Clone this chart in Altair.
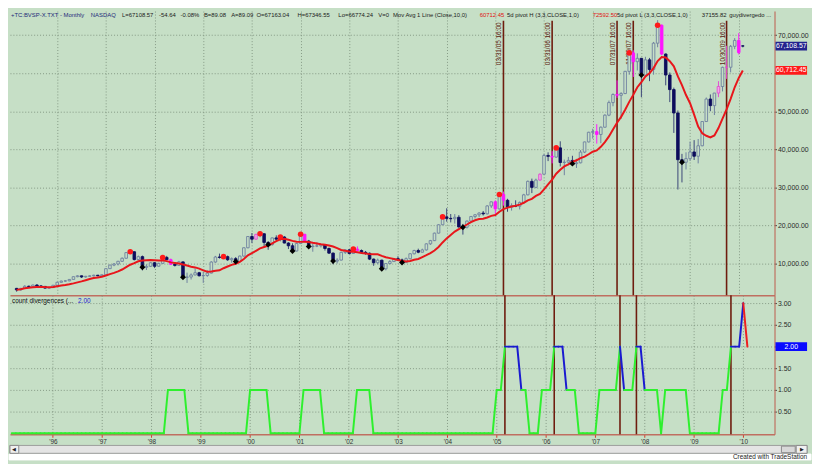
import altair as alt
import pandas as pd

FONT = "Liberation Sans"
BG = "#c6dfc6"

# ---------------- data ----------------
FIRST_BAR = -10  # bar index of Mar 1995 (0 = Jan 1996)

OPEN = [
    3470, 3070, 3460, 4030, 3930, 4350, 4110, 3990, 3540, 3680,                      # 1995 Mar-Dec
    4300, 5070, 5380, 5450, 5820, 6540, 6770, 6460, 6640, 6750, 6930, 6790,          # 1996
    7040, 8650, 9590, 9880, 10580, 11380, 12870, 13090, 11040, 11800, 9000, 9260,    # 1997
    10200, 9290, 10040, 11600, 11010, 9790, 9500, 10430, 6400, 6450, 6990, 7580,     # 1998
    6780, 6850, 7490, 10390, 11710, 11600, 11800, 10980, 11270, 10500, 11950, 14140, # 1999
    17090, 16390, 17660, 17820, 15540, 14960, 16730, 16390, 16960, 15380, 14660, 13280,  # 2000
    15260, 17670, 15890, 14440, 14580, 14640, 14920, 13950, 12730, 10630, 10900, 12930,  # 2001
    13580, 12650, 13780, 13410, 12950, 12690, 11160, 10210, 10880, 8620, 9990, 10510,    # 2002
    11270, 10940, 10280, 11270, 12560, 13420, 12970, 13570, 15170, 16010, 17980, 20180,  # 2003
    22240, 21850, 21760, 22140, 19610, 19540, 21150, 22340, 22800, 23250, 23050, 25130,  # 2004
    26200, 24350, 28140, 26610, 24810, 25210, 25050, 26040, 28040, 31580, 30000, 31920,  # 2005
    33460, 38380, 38150, 37950, 40370, 36530, 36630, 37080, 36230, 36450, 39260, 41930,  # 2006
    44470, 44640, 43890, 45800, 48960, 52270, 54390, 54180, 54640, 60470, 65320, 63010,  # 2007
    63890, 59490, 63490, 60970, 67870, 72590, 65020, 59510, 55680, 49540, 37260, 36600,  # 2008
    37550, 39300, 38180, 40930, 47290, 53200, 51470, 54770, 56490, 61520, 61550, 67040,  # 2009
    68590, 67163,                                                                        # 2010
]
HIGH = [
    3600, 3600, 4300, 4200, 4450, 4600, 4300, 4050, 3800, 4350,
    5200, 5500, 5600, 5900, 6600, 6900, 6850, 6750, 6900, 7050, 7000, 7100,
    8700, 9700, 10100, 10700, 11600, 12950, 13620, 13200, 12100, 12100, 9800, 10300,
    10400, 10200, 11900, 12000, 11300, 10200, 10700, 10500, 7600, 7400, 8700, 7800,
    7800, 8200, 10600, 12000, 12600, 12200, 12100, 11600, 11700, 12100, 14200, 17200,
    18000, 17800, 18500, 17900, 15900, 16800, 17400, 17100, 17200, 15600, 15300, 15400,
    18000, 17800, 16200, 15300, 15600, 15200, 15000, 14200, 12900, 11400, 13100, 13800,
    13800, 14000, 14500, 13700, 13300, 12900, 11300, 11300, 11000, 10100, 10900, 11400,
    11900, 11300, 11600, 12700, 13600, 13900, 13900, 15300, 16200, 18100, 20300, 22400,
    24500, 23000, 23000, 22700, 20400, 21300, 22500, 23000, 23500, 23800, 25300, 26300,
    26600, 28600, 28900, 27000, 25800, 26600, 26300, 28300, 31800, 32300, 32300, 33700,
    38800, 39200, 39500, 40600, 42100, 37300, 38000, 38300, 37500, 39800, 42000, 44600,
    45400, 46600, 46000, 49200, 52800, 54700, 58100, 55000, 60600, 65800, 66000, 65200,
    64000, 64300, 64000, 68200, 73920, 72800, 65200, 60200, 56200, 50200, 38800, 39200,
    42000, 42400, 42700, 47300, 53600, 54400, 54800, 57900, 61700, 67200, 67400, 69200,
    70500, 67347,
]
LOW = [
    2600, 2900, 3400, 3800, 3850, 4000, 3900, 3450, 3350, 3650,
    4250, 5000, 5200, 5350, 5800, 6400, 6200, 6300, 6550, 6600, 6650, 6700,
    7000, 8600, 9300, 9500, 10400, 11300, 12600, 10800, 10900, 8200, 8300, 9100,
    8800, 9200, 9900, 10900, 9600, 9200, 9400, 6300, 4900, 5800, 6900, 6600,
    4900, 6500, 7400, 10200, 11300, 11200, 10700, 10200, 10400, 10400, 11800, 14000,
    15400, 16300, 16900, 14500, 13600, 14700, 16100, 15800, 15300, 13800, 12800, 13200,
    15100, 15600, 14000, 13100, 14300, 14200, 13400, 12500, 9800, 10000, 10800, 12500,
    12400, 12500, 13300, 12600, 12300, 10900, 9400, 9800, 8300, 8200, 9800, 10400,
    10700, 9800, 10100, 11100, 12400, 12700, 12900, 13400, 14900, 15900, 17900, 20100,
    21000, 20800, 20500, 19400, 17600, 19200, 20900, 21800, 22200, 22600, 22900, 24600,
    23100, 24200, 25200, 23600, 23900, 24800, 24200, 25700, 27900, 28500, 29800, 31700,
    33400, 36900, 36300, 37800, 35500, 33200, 35800, 35800, 35100, 36300, 39000, 41800,
    42800, 41500, 41600, 45700, 48700, 51300, 53500, 48000, 54500, 59600, 59000, 60700,
    53700, 59300, 57900, 59600, 66800, 64700, 56800, 52400, 44300, 29430, 31300, 34700,
    37000, 37200, 36300, 40800, 47200, 50000, 49000, 53700, 55200, 58500, 60200, 66300,
    64900, 66774,
]
CLOSE = [
    3070, 3460, 4030, 3930, 4350, 4110, 3990, 3540, 3680, 4300,
    5070, 5380, 5450, 5820, 6540, 6770, 6460, 6640, 6750, 6930, 6790, 7040,
    8650, 9590, 9880, 10580, 11380, 12870, 13090, 11040, 11800, 9000, 9260, 10200,
    9290, 10040, 11600, 11010, 9790, 9500, 10430, 6400, 6450, 6990, 7580, 6780,
    6850, 7490, 10390, 11710, 11600, 11800, 10980, 11270, 10500, 11950, 14140, 17090,
    16390, 17660, 17820, 15540, 14960, 16730, 16390, 16960, 15380, 14660, 13280, 15260,
    17670, 15890, 14440, 14580, 14640, 14920, 13950, 12730, 10630, 10900, 12930, 13580,
    12650, 13780, 13410, 12950, 12690, 11160, 10210, 10880, 8620, 9990, 10510, 11270,
    10940, 10280, 11270, 12560, 13420, 12970, 13570, 15170, 16010, 17980, 20180, 22240,
    21850, 21760, 22140, 19610, 19540, 21150, 22340, 22800, 23250, 23050, 25130, 26200,
    24350, 28140, 26610, 24810, 25210, 25050, 26040, 28040, 31580, 30000, 31920, 33460,
    38380, 38150, 37950, 40370, 36530, 36630, 37080, 36230, 36450, 39260, 41930, 44470,
    44640, 43890, 45800, 48960, 52270, 54390, 54180, 54640, 60470, 65320, 63010, 63890,
    59490, 63490, 60970, 67870, 72590, 65020, 59510, 55680, 49540, 37260, 36600, 37550,
    39300, 38180, 40930, 47290, 53200, 51470, 54770, 56490, 61520, 61550, 67040, 68590,
    65400, 67109,
]

PINK_BARS = [28, 49, 61, 74, 108, 110, 119, 122, 133, 138, 142, 149, 163, 165, 168]
PIVOT_HIGH = [18, 26, 41, 50, 55, 60, 73, 95, 109, 123, 141, 148]
PIVOT_LOW = [21, 31, 44, 52, 58, 62, 68, 80, 85, 100, 127, 144, 154]

DIVERGENCES = [
    0, 0, 0, 0, 0, 0, 0, 0, 0, 0,              # 1995 Mar-Dec
    0, 0, 0, 0, 0, 0, 0, 0, 0, 0, 0, 0,        # 1996
    0, 0, 0, 0, 0, 0, 0, 0, 0, 0, 0, 0,        # 1997
    0, 0, 0, 0, 1, 1, 1, 1, 1, 0, 0, 0,        # 1998
    0, 0, 0, 0, 0, 0, 0, 0, 0, 0, 0, 0,        # 1999
    1, 1, 1, 1, 1, 0, 0, 0, 0, 0, 0, 0,        # 2000
    0, 1, 1, 1, 1, 1, 0, 0, 0, 0, 0, 0,        # 2001
    0, 0, 1, 1, 1, 1, 0, 0, 0, 0, 0, 0,        # 2002
    0, 0, 0, 0, 0, 0, 0, 0, 0, 0, 0, 0,        # 2003
    0, 0, 0, 0, 0, 0, 0, 0, 0, 0, 0, 0,        # 2004
    1, 1, 2, 2, 2, 2, 1, 1, 0, 0, 0, 1,        # 2005
    1, 1, 2, 2, 2, 1, 1, 1, 0, 0, 0, 0,        # 2006
    0, 1, 1, 1, 1, 1, 2, 1, 1, 1, 2, 2,        # 2007
    1, 1, 1, 1, 0, 1, 1, 1, 1, 1, 1, 0,        # 2008
    0, 0, 0, 0, 0, 0, 0, 1, 1, 2, 2, 2,        # 2009
    3, 2,                                      # 2010
]

SIGNAL_BARS = [110, 122, 138, 142, 165]
SIGNAL_LABELS = ["03/31/05 16:00", "03/31/06 16:00", "07/31/07 16:00",
                 "11/30/07 16:00", "10/30/09 16:00"]

YEAR_TICKS = [0, 12, 24, 36, 48, 60, 72, 84, 96, 108, 120, 132, 144, 156, 168]
YEAR_LABELS = ["'96", "'97", "'98", "'99", "'00", "'01", "'02", "'03", "'04",
               "'05", "'06", "'07", "'08", "'09", "'10"]
PRICE_TICKS = [10000, 20000, 30000, 40000, 50000, 60000, 70000]
COUNT_TICKS = [0.5, 1.0, 1.5, 2.0, 2.5, 3.0]

LAST_CLOSE = 67108.57
LAST_MA = 60712.45
LAST_COUNT = 2.0

HEADER = [
    ("+TC:BVSP-X.TXT - Monthly", 1, "#1e2a7a"),
    ("NASDAQ", 83, "#1e2a7a"),
    ("L=67108.57", 115, "#1a1a1a"),
    ("-54.64", 153, "#1a1a1a"),
    ("-0.08%", 175, "#1a1a1a"),
    ("B=89.08", 199, "#1a1a1a"),
    ("A=89.09", 227, "#1a1a1a"),
    ("O=67163.04", 253, "#1a1a1a"),
    ("H=67346.55", 295, "#1a1a1a"),
    ("Lo=66774.24", 337, "#1a1a1a"),
    ("V=0", 378, "#1a1a1a"),
    ("Mov Avg 1 Line (Close,10,0)", 393, "#1a1a1a"),
    ("60712.45", 482, "#e01010"),
    ("5d pivot H (3,3,CLOSE,1,0)", 510, "#1a1a1a"),
    ("72592.50", 598, "#e01010"),
    ("5d pivot L (3,3,CLOSE,1,0)", 623, "#1a1a1a"),
    ("37155.82", 710, "#1a1a1a"),
    ("guydivergedo ...", 738, "#1a1a1a"),
]

# ---------------- layout ----------------
W, H1, H2 = 775, 288, 141
SX = 0.9878

price = pd.DataFrame({
    "m": list(range(FIRST_BAR, FIRST_BAR + len(CLOSE))),
    "o": OPEN, "h": HIGH, "l": LOW, "c": CLOSE,
})
div = pd.DataFrame({"m": list(range(FIRST_BAR, FIRST_BAR + len(DIVERGENCES))),
                    "v": DIVERGENCES})
sig = pd.DataFrame({"m": SIGNAL_BARS, "label": SIGNAL_LABELS})
ONE = pd.DataFrame({"k": [0]})

XS = alt.Scale(domain=[-10.43, 175.6], nice=False, zero=False)
YS = alt.Scale(domain=[1681, 76302], nice=False, zero=False)
YS2 = alt.Scale(domain=[-0.022, 3.186], nice=False, zero=False)

GRID = dict(grid=True, gridColor="#7d917d", gridDash=[1, 2], gridWidth=1, gridOpacity=0.9)
BORDER = "#bf6f60"

AX_TOP = alt.Axis(values=YEAR_TICKS, labels=False, ticks=False, domain=True,
                  domainColor=BORDER, domainWidth=1.5, title=None, **GRID)
AY_TOP = alt.Axis(orient="right", values=PRICE_TICKS,
                  labelExpr="datum.value == 60000 ? '' : format(datum.value, ',.2f')",
                  domainColor=BORDER, domainWidth=1.2, tickColor="#444444", tickSize=2,
                  labelFont=FONT, labelFontSize=7, labelColor="#2a2a2a", labelPadding=1,
                  labelOverlap=False, title=None, **GRID)
year_arr = "[" + ",".join('"%s"' % s for s in YEAR_LABELS) + "]"
AX_BOT = alt.Axis(values=YEAR_TICKS, labelExpr=year_arr + "[round(datum.value/12)]",
                  tickColor="#d0392a", tickSize=3, labelFont=FONT, labelFontSize=6.5,
                  labelColor="#333333", labelPadding=1, domainColor=BORDER, domainWidth=1.5,
                  labelFlush=False, labelOverlap=False, title=None, **GRID)
AY_BOT = alt.Axis(orient="right", values=COUNT_TICKS,
                  labelExpr="datum.value == 2 ? '' : format(datum.value, '.2f')",
                  domainColor=BORDER, domainWidth=1.2, tickColor="#444444", tickSize=2,
                  labelFont=FONT, labelFontSize=7, labelColor="#2a2a2a", labelPadding=1,
                  labelOverlap=False, title=None, **GRID)

X_TOP = alt.X("m:Q", scale=XS, axis=AX_TOP)
X_BOT = alt.X("m:Q", scale=XS, axis=AX_BOT)

pink_arr = "[" + ",".join(str(p) for p in PINK_BARS) + "]"
base = alt.Chart(price).transform_calculate(
    kind="(datum.c >= datum.o ? 'up' : 'dn') + (indexof(" + pink_arr + ", datum.m) >= 0 ? 'P' : '')"
)
KINDS = ["up", "dn", "upP", "dnP"]


def note(s, x, y, color="#222222", size=6, align="left"):
    return alt.Chart(ONE).mark_text(text=s, font=FONT, fontSize=size, color=color,
                                    align=align, baseline="middle").encode(
        x=alt.value(x), y=alt.value(y))


def box(x1, x2, y1, y2, fill, stroke):
    return alt.Chart(ONE).mark_rect(fill=fill, stroke=stroke, strokeWidth=1).encode(
        x=alt.value(x1), x2=alt.value(x2), y=alt.value(y1), y2=alt.value(y2))


def value_box(v, txt, color, scale, axis):
    yd = alt.YDatum(v, scale=scale, axis=axis)
    r = alt.Chart(ONE).mark_rule(strokeWidth=9, color=color, strokeCap="butt").encode(
        x=alt.value(W + 1), x2=alt.value(W + 33), y=yd)
    t = alt.Chart(ONE).mark_text(text=txt, font=FONT, fontSize=7, color="#ffffff",
                                 align="center", baseline="middle").encode(
        x=alt.value(W + 17), y=yd)
    return r, t


# ---------------- top panel ----------------
sig_rules = alt.Chart(sig).mark_rule(color="#6e1c0e", strokeWidth=1.6).encode(
    x=X_TOP, y=alt.value(9.7), y2=alt.value(H1))
sig_text = alt.Chart(sig).mark_text(angle=270, align="right", baseline="bottom", dy=-1,
                                    font=FONT, fontSize=6.5, color="#5b200e").encode(
    x=X_TOP, y=alt.value(11.5), text="label:N")

wicks = base.mark_rule(strokeWidth=1).encode(
    x=X_TOP, y=alt.Y("l:Q", scale=YS, axis=AY_TOP), y2="h:Q",
    color=alt.Color("kind:N", scale=alt.Scale(domain=KINDS,
                    range=["#6f81a0", "#3a4578", "#e050d0", "#ff14ff"]), legend=None))
bodies = base.mark_bar(size=2.6, strokeWidth=0.9).encode(
    x=X_TOP, y=alt.Y("o:Q", scale=YS, axis=AY_TOP), y2="c:Q",
    fill=alt.Fill("kind:N", scale=alt.Scale(domain=KINDS,
                  range=[BG, "#0d0d5c", "#f2a6ea", "#ff14ff"]), legend=None),
    stroke=alt.Stroke("kind:N", scale=alt.Scale(domain=KINDS,
                      range=["#6f81a0", "#0d0d5c", "#e050d0", "#ff14ff"]), legend=None))
ma = base.transform_window(ma="mean(c)", frame=[-9, 0], sort=[alt.SortField("m")]).mark_line(
    color="#e8161b", strokeWidth=2).encode(x=X_TOP, y=alt.Y("ma:Q", scale=YS, axis=AY_TOP))
hi_pts = base.transform_filter(alt.FieldOneOfPredicate(field="m", oneOf=PIVOT_HIGH)).mark_point(
    shape="circle", filled=True, size=32, color="#ff1a1a", opacity=1).encode(
    x=X_TOP, y=alt.Y("c:Q", scale=YS, axis=AY_TOP))
lo_pts = base.transform_filter(alt.FieldOneOfPredicate(field="m", oneOf=PIVOT_LOW)).mark_point(
    shape="diamond", filled=True, size=36, color="#000000", opacity=1).encode(
    x=X_TOP, y=alt.Y("c:Q", scale=YS, axis=AY_TOP))

box_close, box_close_t = value_box(LAST_CLOSE, f"{LAST_CLOSE:,.2f}", "#23238e", YS, AY_TOP)
box_ma, box_ma_t = value_box(LAST_MA, f"{LAST_MA:,.2f}", "#ff1a1a", YS, AY_TOP)

header = [note(t, x * SX, 4.4, c) for t, x, c in HEADER]

top = alt.layer(sig_rules, sig_text, wicks, bodies, ma, hi_pts, lo_pts,
                box_close, box_close_t, box_ma, box_ma_t, *header).properties(width=W, height=H1)

# ---------------- bottom panel ----------------
sig_rules2 = alt.Chart(sig).mark_rule(color="#6e1c0e", strokeWidth=1.6).encode(
    x=X_BOT, y=alt.value(0), y2=alt.value(H2))

segs = alt.Chart(div).transform_window(
    window=[alt.WindowFieldDef(op="lag", field="v", **{"as": "pv"}),
            alt.WindowFieldDef(op="lag", field="m", **{"as": "pm"})],
    sort=[alt.SortField("m")]
).transform_filter("isValid(datum.pv)").transform_calculate(
    seg="datum.pv >= 3 ? 'r' : (datum.pv >= 2 ? 'b' : 'g')"
).mark_rule(strokeWidth=2, strokeCap="round").encode(
    x=alt.X("pm:Q", scale=XS, axis=AX_BOT), x2="m:Q",
    y=alt.Y("pv:Q", scale=YS2, axis=AY_BOT), y2="v:Q",
    color=alt.Color("seg:N", scale=alt.Scale(domain=["g", "b", "r"],
                    range=["#2ef02e", "#1a1ad0", "#ee2020"]), legend=None))

box_cnt, box_cnt_t = value_box(LAST_COUNT, f"{LAST_COUNT:.2f}", "#0a0aff", YS2, AY_BOT)

title1 = note("count divergences (...", 2, 5.5, "#111111", size=6.5)
title2 = note(f"{LAST_COUNT:.2f}", 69, 5.5, "#2020d0", size=6.5)

SB0, SB1 = 152.3, 160.3
scroll = box(0, 808, SB0, SB1, "#e4e4e4", "#9c9c9c")
scroll_l = box(0, 8.9, SB0, SB1, "#f0f0f0", "#8a8a8a")
scroll_th = box(782, 796, SB0 + 0.7, SB1 - 0.7, "#d8d8d8", "#8a8a8a")
scroll_r = box(797, 808, SB0, SB1, "#f0f0f0", "#8a8a8a")
arr_l = note("\u25c0", 4.5, (SB0 + SB1) / 2, "#222222", size=5, align="center")
arr_r = note("\u25b6", 802.5, (SB0 + SB1) / 2, "#222222", size=5, align="center")
white = box(-1, 812, SB1 + 0.8, 167, "#ffffff", "#ffffff")
created = note("Created with TradeStation", 808, 164.3, "#222222", size=6.5, align="right")

bottom = alt.layer(sig_rules2, segs, box_cnt, box_cnt_t, title1, title2,
                   white, scroll, scroll_l, scroll_th, scroll_r, arr_l, arr_r,
                   created).properties(width=W, height=H2)

chart = alt.vconcat(top, bottom, spacing=0, bounds="flush").resolve_scale(
    color="independent", fill="independent", stroke="independent"
).properties(padding=0).configure(background=BG, font=FONT).configure_view(
    stroke=None).configure_axis(labelOverlap=False)

chart.save("out.html", embed_options={"renderer": "svg", "actions": False})
